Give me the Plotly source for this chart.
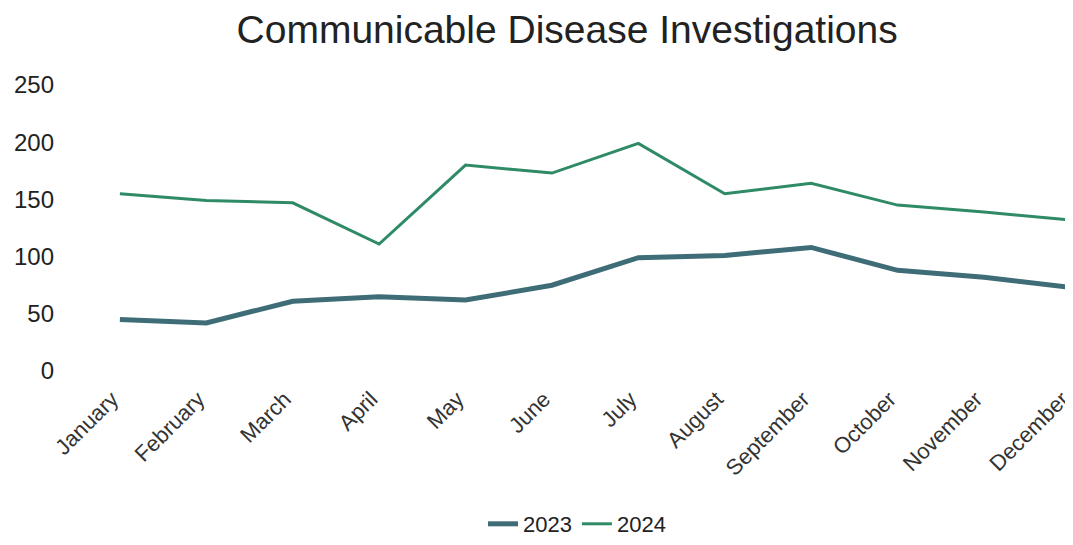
import plotly.graph_objects as go

months = ["January", "February", "March", "April", "May", "June", "July",
          "August", "September", "October", "November", "December"]
y2023 = [45, 42, 61, 65, 62, 75, 99, 101, 108, 88, 82, 73]
y2024 = [155, 149, 147, 111, 180, 173, 199, 155, 164, 145, 139, 132]
series_names = ["2023", "2024"]
colors = ["#3e6d78", "#2f8a66"]

fig = go.Figure()
fig.add_trace(go.Scatter(x=months, y=y2023, mode="lines", name=series_names[0],
                         line=dict(color=colors[0], width=5)))
fig.add_trace(go.Scatter(x=months, y=y2024, mode="lines", name=series_names[1],
                         line=dict(color=colors[1], width=3)))

# the page body adds an 8px offset, so the figure is 8px smaller than the window
fig.update_layout(
    width=1065, height=537,
    paper_bgcolor="white", plot_bgcolor="white",
    margin=dict(l=73, r=0, t=77, b=174),
    title=dict(text="Communicable Disease Investigations", x=0.525, xanchor="center",
               y=0.96, yanchor="middle",
               font=dict(family="Liberation Sans, Arial, sans-serif", size=39, color="#222222")),
    font=dict(family="Liberation Sans, Arial, sans-serif", color="#333333"),
    showlegend=True,
    legend=dict(orientation="h", x=0.5, xanchor="center", yref="container",
                y=-0.018, yanchor="bottom",
                font=dict(size=22, color="#222222")),
    xaxis=dict(range=[-0.45, 11.03], showgrid=False, showline=False, zeroline=False,
               tickangle=-45, tickfont=dict(size=22, color="#333333"), ticks="",
               ticklabelstandoff=10, ticklabelshift=-8, automargin=False),
    yaxis=dict(range=[0, 250], tickvals=[0, 50, 100, 150, 200, 250], showgrid=False,
               zeroline=False, showline=False, tickfont=dict(size=24, color="#222222"),
               ticklabelstandoff=26, automargin=False),
)

fig.write_html("out.html")
